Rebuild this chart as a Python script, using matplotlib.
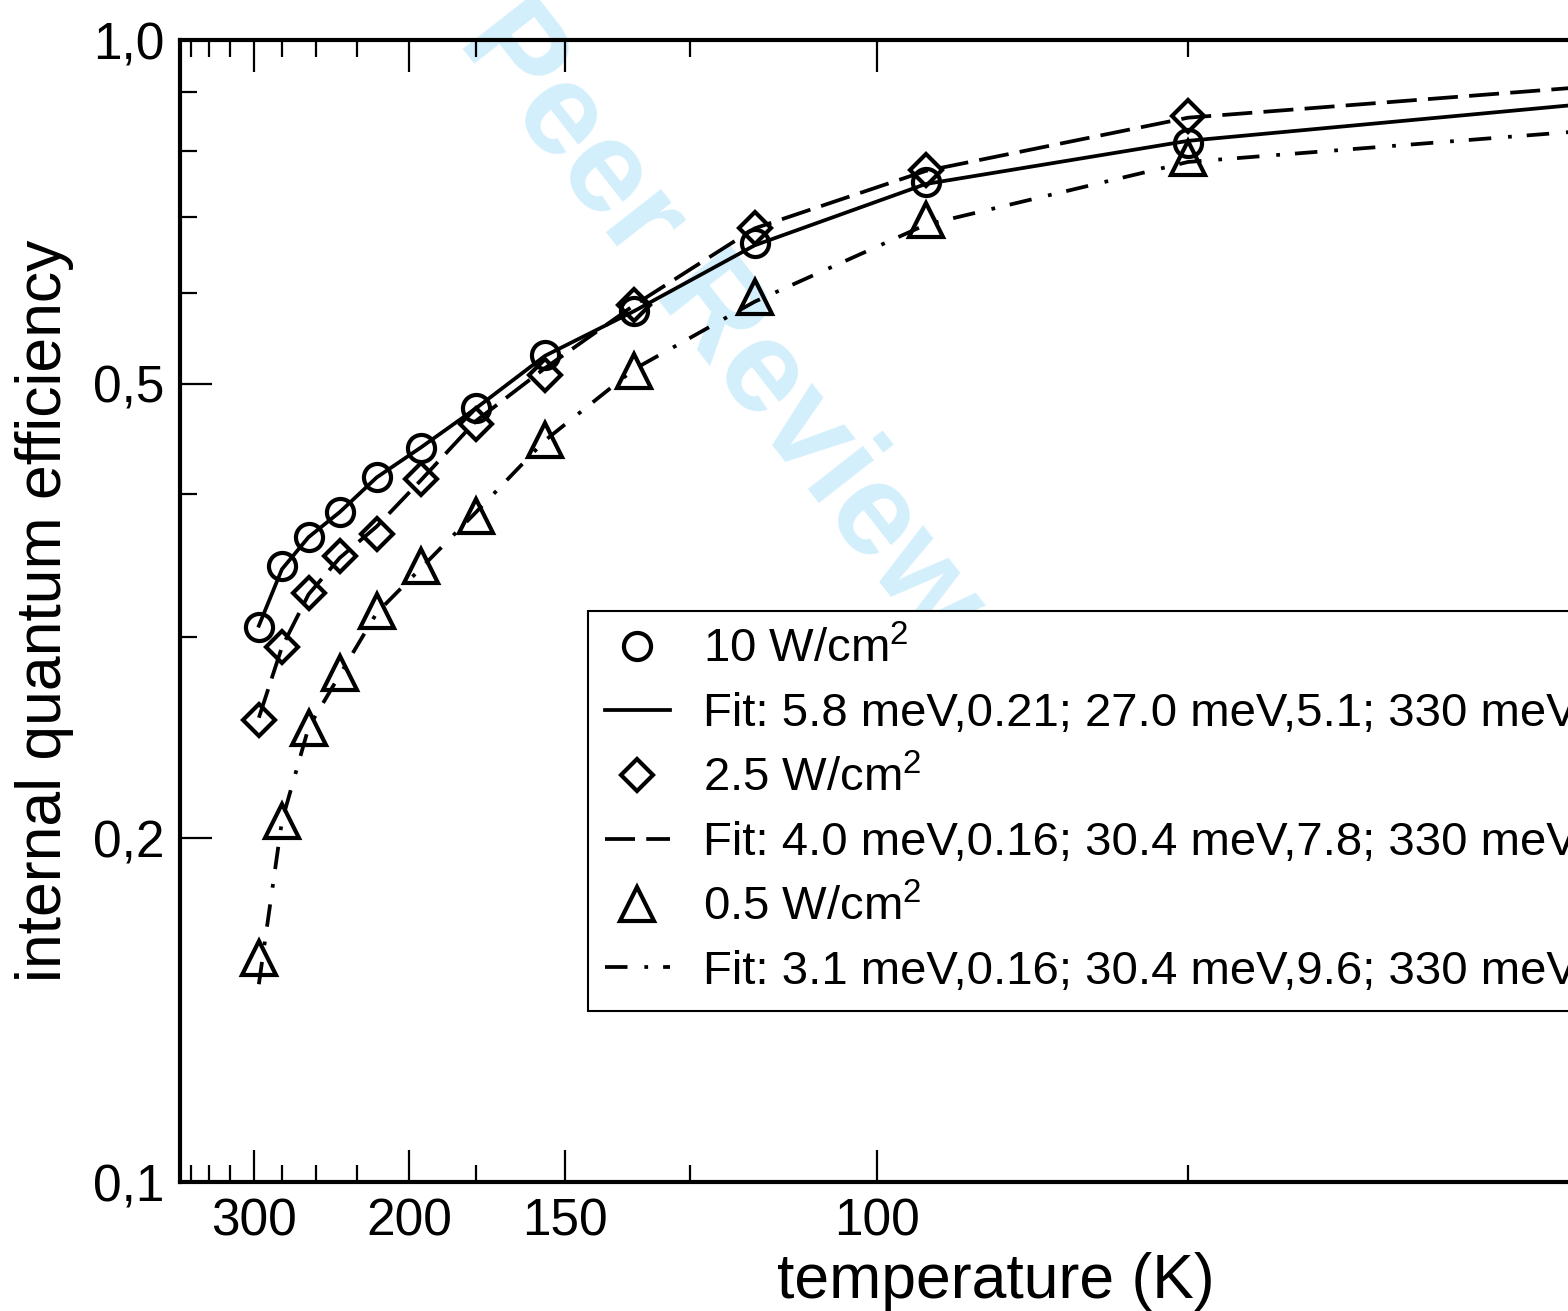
import numpy as np
import matplotlib.pyplot as plt
from matplotlib.ticker import FixedLocator, NullFormatter

plt.rcParams['font.family'] = ['Liberation Sans', 'DejaVu Sans']
plt.rcParams['mathtext.fontset'] = 'custom'
plt.rcParams['mathtext.rm'] = 'Liberation Sans'
plt.rcParams['mathtext.it'] = 'Liberation Sans:italic'

# measured temperatures (K)
temp = [295, 275, 255, 235, 215, 195, 175, 155, 135, 115, 95, 75]
iqe_10 = [0.306, 0.346, 0.367, 0.386, 0.414, 0.439, 0.476, 0.530, 0.579, 0.664, 0.751, 0.812]
iqe_25 = [0.254, 0.294, 0.328, 0.353, 0.369, 0.413, 0.461, 0.509, 0.586, 0.684, 0.769, 0.858]
iqe_05 = [0.157, 0.207, 0.250, 0.279, 0.316, 0.346, 0.383, 0.446, 0.513, 0.596, 0.696, 0.788]

# fit curves
temp_fit = [295, 275, 255, 235, 215, 195, 175, 155, 135, 115, 95, 75, 57.3]
fit_10 = [0.307, 0.344, 0.367, 0.386, 0.414, 0.440, 0.476, 0.529, 0.579, 0.661, 0.748, 0.816, 0.877]
fit_25 = [0.255, 0.294, 0.327, 0.352, 0.375, 0.412, 0.464, 0.516, 0.586, 0.684, 0.768, 0.855, 0.908]
fit_05 = [0.149, 0.207, 0.250, 0.278, 0.315, 0.345, 0.386, 0.446, 0.515, 0.590, 0.689, 0.782, 0.831]

labels = ['10 W/cm$^2$', '2.5 W/cm$^2$', '0.5 W/cm$^2$']
fit_labels = ['Fit: 5.8 meV,0.21; 27.0 meV,5.1; 330 meV',
              'Fit: 4.0 meV,0.16; 30.4 meV,7.8; 330 meV',
              'Fit: 3.1 meV,0.16; 30.4 meV,9.6; 330 meV']

x_major = [300, 200, 150, 100]
x_minor = [375, 350, 325, 275, 250, 225, 175, 125, 75]
y_major = [0.1, 0.2, 0.5, 1.0]
y_major_labels = ['0,1', '0,2', '0,5', '1,0']
y_minor = [0.3, 0.4, 0.6, 0.7, 0.8, 0.9]


def inv(t):
    return 1.0 / np.asarray(t, dtype=float)


W, H = 1568, 1311
fig = plt.figure(figsize=(W / 100, H / 100), dpi=100)
ax = fig.add_axes([180 / W, (H - 1182) / H, (1811 - 180) / W, (1182 - 40) / H])
ax.set_yscale('log')

lw = 2.7
mew = 3.0
ax.plot(inv(temp), iqe_10, 'o', ms=19.5, mfc='none', mec='k', mew=mew, label=labels[0])
ax.plot(inv(temp_fit), fit_10, '-', color='k', lw=lw, label=fit_labels[0])
ax.plot(inv(temp), iqe_25, 'D', ms=16.5, mfc='none', mec='k', mew=mew, label=labels[1])
ax.plot(inv(temp_fit), fit_25, color='k', lw=lw, ls=(0, (8, 3)), label=fit_labels[1])
ax.plot(inv(temp), iqe_05, '^', ms=24, mfc='none', mec='k', mew=mew, label=labels[2])
ax.plot(inv(temp_fit), fit_05, color='k', lw=lw, ls=(0, (6, 4.5, 1, 4)), label=fit_labels[2])

ax.set_xlim(1 / 392.8, 1 / 50)
ax.set_ylim(0.1, 1.0)

ax.xaxis.set_major_locator(FixedLocator(inv(x_major)))
ax.xaxis.set_minor_locator(FixedLocator(inv(x_minor)))
ax.set_xticklabels([str(v) for v in x_major])
ax.xaxis.set_minor_formatter(NullFormatter())
ax.yaxis.set_major_locator(FixedLocator(y_major))
ax.yaxis.set_minor_locator(FixedLocator(y_minor))
ax.set_yticklabels(y_major_labels)
ax.yaxis.set_minor_formatter(NullFormatter())

ax.tick_params(which='both', direction='in', top=True, right=True, width=1.6)
ax.tick_params(which='major', length=23, labelsize=37, pad=11)
ax.tick_params(which='minor', length=12)
for s in ax.spines.values():
    s.set_linewidth(3)

ax.set_xlabel('temperature (K)', fontsize=45, labelpad=4)
ax.set_ylabel('internal quantum efficiency', fontsize=45, labelpad=14)

ax.text(645 / W, 1 - 226 / H, 'For Peer Review', transform=fig.transFigure,
        rotation=-52, rotation_mode='anchor', ha='center', va='center',
        fontsize=94, fontweight='bold', color='#d3effc', zorder=0, clip_on=False)

leg = ax.legend(loc='upper left', bbox_to_anchor=(0.2502, 0.5), borderaxespad=0,
                fontsize=34, frameon=True, fancybox=False, framealpha=1,
                edgecolor='k', handlelength=1.38, handletextpad=0.7,
                borderpad=0.35, labelspacing=0.42)
leg.get_frame().set_linewidth(1.5)

fig.savefig('out.png', dpi=100)
